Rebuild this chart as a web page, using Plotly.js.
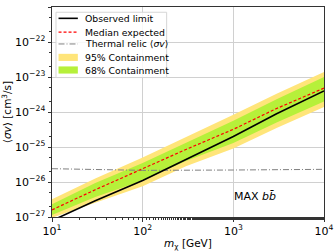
<!DOCTYPE html>
<html><head><meta charset="utf-8">
<script src="https://cdn.plot.ly/plotly-3.0.1.min.js"></script>
<style>html,body{margin:0;padding:0;background:#fff}#c{width:336px;height:252px}</style>
</head><body><div id="c"></div>
<script>
const mass = [10, 30, 100, 300, 1000, 3000, 10000];
const observed = [7.9e-28, 2.9e-27, 1.1e-26, 4.4e-26, 2.0e-25, 8.9e-25, 4.0e-24];
const median = [1.6e-27, 6.0e-27, 2.4e-26, 8.5e-26, 3.2e-25, 1.26e-24, 4.8e-24];
const c68hi = [2.3e-27, 9.3e-27, 3.5e-26, 1.3e-25, 5.6e-25, 2.3e-24, 1.0e-23];
const c68lo = [1.15e-27, 3.7e-27, 1.1e-26, 4.0e-26, 1.3e-25, 5.0e-25, 2.0e-24];
const c95hi = [3.2e-27, 1.26e-26, 5.0e-26, 1.9e-25, 8.3e-25, 3.3e-24, 1.4e-23];
const c95lo = [9.5e-28, 2.5e-27, 7.6e-27, 2.8e-26, 9.1e-26, 3.5e-25, 1.4e-24];
const relicMass = [10, 30, 100, 1000, 10000];
const relic = [2.4e-26, 2.3e-26, 2.15e-26, 2.2e-26, 2.3e-26];
const xTickVals = [10, 100, 1000, 10000];
const xTickText = ['10<sup>1</sup>', '10<sup>2</sup>', '10<sup>3</sup>', '10<sup>4</sup>'];
const yTickVals = [1e-27, 1e-26, 1e-25, 1e-24, 1e-23, 1e-22, 1e-21];
const yTickText = ['10<sup>−27</sup>', '10<sup>−26</sup>', '10<sup>−25</sup>', '10<sup>−24</sup>',
  '10<sup>−23</sup>', '10<sup>−22</sup>', '10<sup>−21</sup>'];
const legendLabels = ['Observed limit', 'Median expected', 'Thermal relic ⟨<i>σv</i>⟩',
  '95% Containment', '68% Containment'];

const yellow = '#ffe57a', green = '#b6f03a';
const lineStyles = [
  {color: '#000000', width: 1.6},
  {color: '#ff0000', width: 1.2, dash: '3px,2px'},
  {color: '#808080', width: 1, dash: '6px,2px,1px,2px'}
];
const traces = [
  {x: mass, y: c95lo, mode: 'lines', line: {width: 0}},
  {x: mass, y: c95hi, mode: 'lines', line: {width: 0}, fill: 'tonexty', fillcolor: yellow},
  {x: mass, y: c68lo, mode: 'lines', line: {width: 0}},
  {x: mass, y: c68hi, mode: 'lines', line: {width: 0}, fill: 'tonexty', fillcolor: green},
  {x: relicMass, y: relic, mode: 'lines', line: lineStyles[2]},
  {x: mass, y: median, mode: 'lines', line: lineStyles[1]},
  {x: mass, y: observed, mode: 'lines', line: lineStyles[0]}
];

// manual compact legend (paper coordinates)
const legY = [0.946, 0.880, 0.824, 0.760, 0.700];
const shapes = [
  {type: 'rect', xref: 'paper', yref: 'paper', x0: 0.0147, x1: 0.4215, y0: 0.664, y1: 0.975,
   fillcolor: 'rgba(255,255,255,0.85)', line: {color: '#d6d6d6', width: 1}, layer: 'above'}
];
for (let i = 0; i < 3; i++) {
  shapes.push({type: 'line', xref: 'paper', yref: 'paper', x0: 0.024, x1: 0.095, y0: legY[i], y1: legY[i],
    line: lineStyles[i], layer: 'above'});
}
[yellow, green].forEach((c, k) => {
  shapes.push({type: 'rect', xref: 'paper', yref: 'paper', x0: 0.024, x1: 0.095,
    y0: legY[3 + k] - 0.017, y1: legY[3 + k] + 0.017, fillcolor: c, line: {width: 0}, layer: 'above'});
});
const annotations = legendLabels.map((t, i) => ({xref: 'paper', yref: 'paper', x: 0.115, y: legY[i],
  xanchor: 'left', yanchor: 'middle', showarrow: false, text: t, font: {size: 9.3}}));
annotations.push({xref: 'paper', yref: 'paper', x: 0.748, y: 0.10, showarrow: false,
  xanchor: 'center', yanchor: 'middle', text: 'MAX <i>b</i><i>b̄</i>', font: {size: 11}});

const axisCommon = {
  type: 'log', showline: true, mirror: true, linecolor: '#333', linewidth: 1,
  ticks: 'outside', ticklen: 3.5, tickcolor: '#333', showgrid: true, gridcolor: '#d0d0d0', gridwidth: 1,
  zeroline: false, tickmode: 'array',
  tickfont: {family: 'DejaVu Sans', size: 11, color: '#000'},
  minor: {ticks: 'outside', ticklen: 2, tickcolor: '#333', showgrid: false}
};
const layout = {
  width: 336, height: 252,
  margin: {l: 52, r: 12, t: 7, b: 35},
  paper_bgcolor: '#fff', plot_bgcolor: '#fff',
  font: {family: 'DejaVu Sans', size: 9, color: '#000'},
  xaxis: Object.assign({}, axisCommon, {range: [1, 4], tickvals: xTickVals, ticktext: xTickText,
    title: {text: '<i>m</i><sub>χ</sub> [GeV]', font: {size: 10.5}, standoff: 2}}),
  yaxis: Object.assign({}, axisCommon, {range: [-27, -21], tickvals: yTickVals, ticktext: yTickText,
    title: {text: '⟨<i>σv</i>⟩ [cm<sup>3</sup>/s]', font: {size: 10.5}, standoff: 2}}),
  shapes: shapes,
  annotations: annotations,
  showlegend: false
};
Plotly.newPlot('c', traces, layout, {staticPlot: true});
</script></body></html>
